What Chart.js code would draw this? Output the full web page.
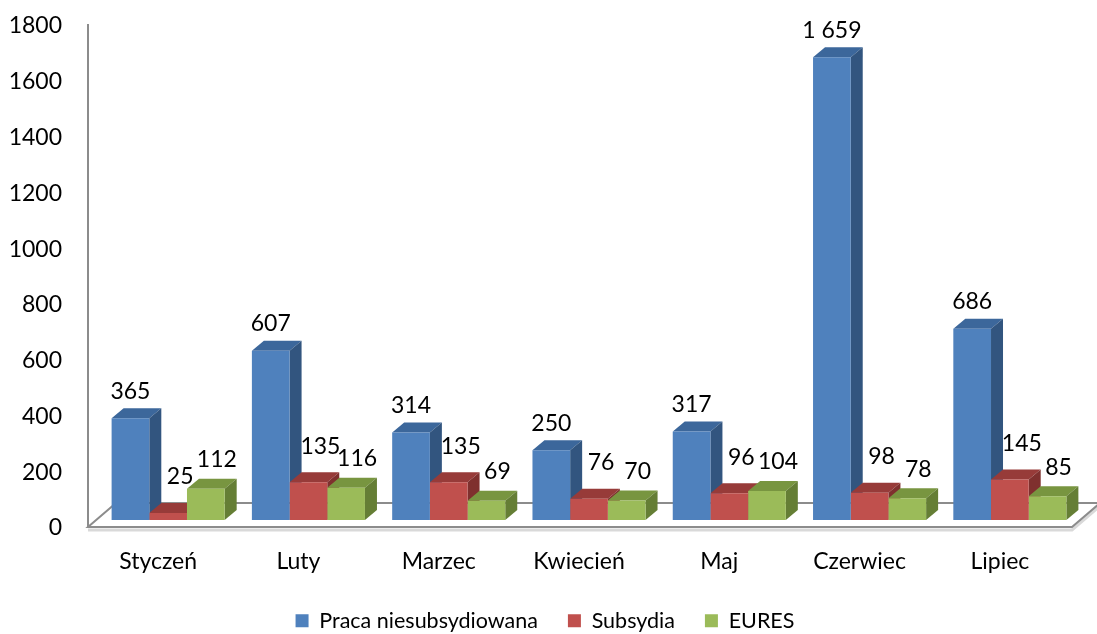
<!DOCTYPE html>
<html>
<head>
<meta charset="utf-8">
<script src="https://cdn.jsdelivr.net/npm/chart.js@4.4.1/dist/chart.umd.min.js"></script>
<style>
  html, body { margin: 0; padding: 0; background: #fff; }
</style>
</head>
<body>
<canvas id="chart" width="1097" height="634"></canvas>
<script>
// dane
const months = ['Styczeń', 'Luty', 'Marzec', 'Kwiecień', 'Maj', 'Czerwiec', 'Lipiec'];
const seriesNames = ['Praca niesubsydiowana', 'Subsydia', 'EURES'];
const praca = [365, 607, 314, 250, 317, 1659, 686];
const subsydia = [25, 135, 135, 76, 96, 98, 145];
const eures = [112, 116, 69, 70, 104, 78, 85];
const yMax = 1800;
const yStep = 200;

// kolory: przod, gora, bok
const faces = [
  { front: '#4F81BD', top: '#3C679B', side: '#32557F' },
  { front: '#C0504D', top: '#973B39', side: '#7F302E' },
  { front: '#9BBB59', top: '#789540', side: '#657E35' },
];
// przesuniecie etykiet [dx, nad gora]
const labelShift = [[0, 27], [12, 36], [11, 29]];
const DX = 12, DY = 10;
const FONT = { family: 'Lato', size: 23 };

const fmt = v => String(v).replace(/\B(?=(\d{3})+(?!\d))/g, ' ');

const bar3d = {
  id: 'bar3d',
  beforeDatasetsDraw(chart) {
    const { ctx, chartArea: a } = chart;
    const base = chart.scales.y.getPixelForValue(0);
    const fy = base + 7, by = base - 17;
    const fl = a.left - 10, fr = a.right - 8, sh = 28;
    ctx.save();
    // podloga
    ctx.strokeStyle = '#d9d9d9';
    ctx.lineWidth = 3;
    ctx.beginPath();
    ctx.moveTo(fl, fy + 3); ctx.lineTo(fr, fy + 3); ctx.lineTo(fr + sh, by + 3);
    ctx.stroke();
    ctx.strokeStyle = '#8c8c8c';
    ctx.lineWidth = 2;
    ctx.beginPath();
    ctx.moveTo(fl, fy);
    ctx.lineTo(fr, fy);
    ctx.lineTo(fr + sh, by);
    ctx.lineTo(fl + sh, by);
    ctx.closePath();
    ctx.stroke();
    ctx.beginPath();
    ctx.moveTo(fl, a.top + 6);
    ctx.lineTo(fl, fy);
    ctx.stroke();
    // gora i bok slupkow
    chart.data.datasets.forEach((ds, i) => {
      const meta = chart.getDatasetMeta(i);
      meta.data.forEach(bar => {
        const { x, y, base: b, width } = bar.getProps(['x', 'y', 'base', 'width'], true);
        const l = x - width / 2, r = x + width / 2;
        ctx.fillStyle = faces[i].top;
        ctx.beginPath();
        ctx.moveTo(l, y); ctx.lineTo(l + DX, y - DY); ctx.lineTo(r + DX, y - DY); ctx.lineTo(r, y);
        ctx.closePath(); ctx.fill();
        ctx.fillStyle = faces[i].side;
        ctx.beginPath();
        ctx.moveTo(r, y); ctx.lineTo(r + DX, y - DY); ctx.lineTo(r + DX, b - DY); ctx.lineTo(r, b);
        ctx.closePath(); ctx.fill();
      });
    });
    ctx.restore();
  },
  afterDatasetsDraw(chart) {
    const { ctx } = chart;
    ctx.save();
    ctx.font = `${FONT.size}px ${FONT.family}`;
    ctx.fillStyle = '#000';
    ctx.textAlign = 'center';
    ctx.textBaseline = 'middle';
    chart.data.datasets.forEach((ds, i) => {
      const meta = chart.getDatasetMeta(i);
      meta.data.forEach((bar, j) => {
        const { x, y } = bar.getProps(['x', 'y'], true);
        ctx.fillText(fmt(ds.data[j]), x + labelShift[i][0], y - labelShift[i][1]);
      });
    });
    ctx.restore();
  }
};

new Chart(document.getElementById('chart'), {
  type: 'bar',
  data: {
    labels: months,
    datasets: [praca, subsydia, eures].map((d, i) => ({
      label: seriesNames[i],
      data: d,
      backgroundColor: faces[i].front,
      borderWidth: 0,
      barPercentage: 1,
      categoryPercentage: 0.806,
    }))
  },
  options: {
    responsive: false,
    animation: false,
    layout: { padding: { left: 10, right: 17, top: 18, bottom: 0 } },
    plugins: {
      legend: {
        position: 'bottom',
        maxHeight: 54,
        labels: { font: { family: 'Lato', size: 21.5 }, color: '#000', boxWidth: 13, boxHeight: 13, padding: 30 }
      },
      tooltip: { enabled: false }
    },
    scales: {
      x: {
        grid: { display: false, drawTicks: false },
        border: { display: false },
        ticks: { font: FONT, color: '#000', labelOffset: -10, padding: 28 },
        afterFit: s => { s.height = 60; s.paddingLeft = 0; s.paddingRight = 0; }
      },
      y: {
        min: 0,
        max: yMax,
        grid: { display: false, drawTicks: false },
        border: { display: false },
        ticks: { stepSize: yStep, font: FONT, color: '#000', padding: 36, labelOffset: 8, callback: v => String(v) },
        afterFit: s => { s.width = 88; s.paddingTop = 0; s.paddingBottom = 0; }
      }
    }
  },
  plugins: [bar3d]
});
</script>
</body>
</html>
